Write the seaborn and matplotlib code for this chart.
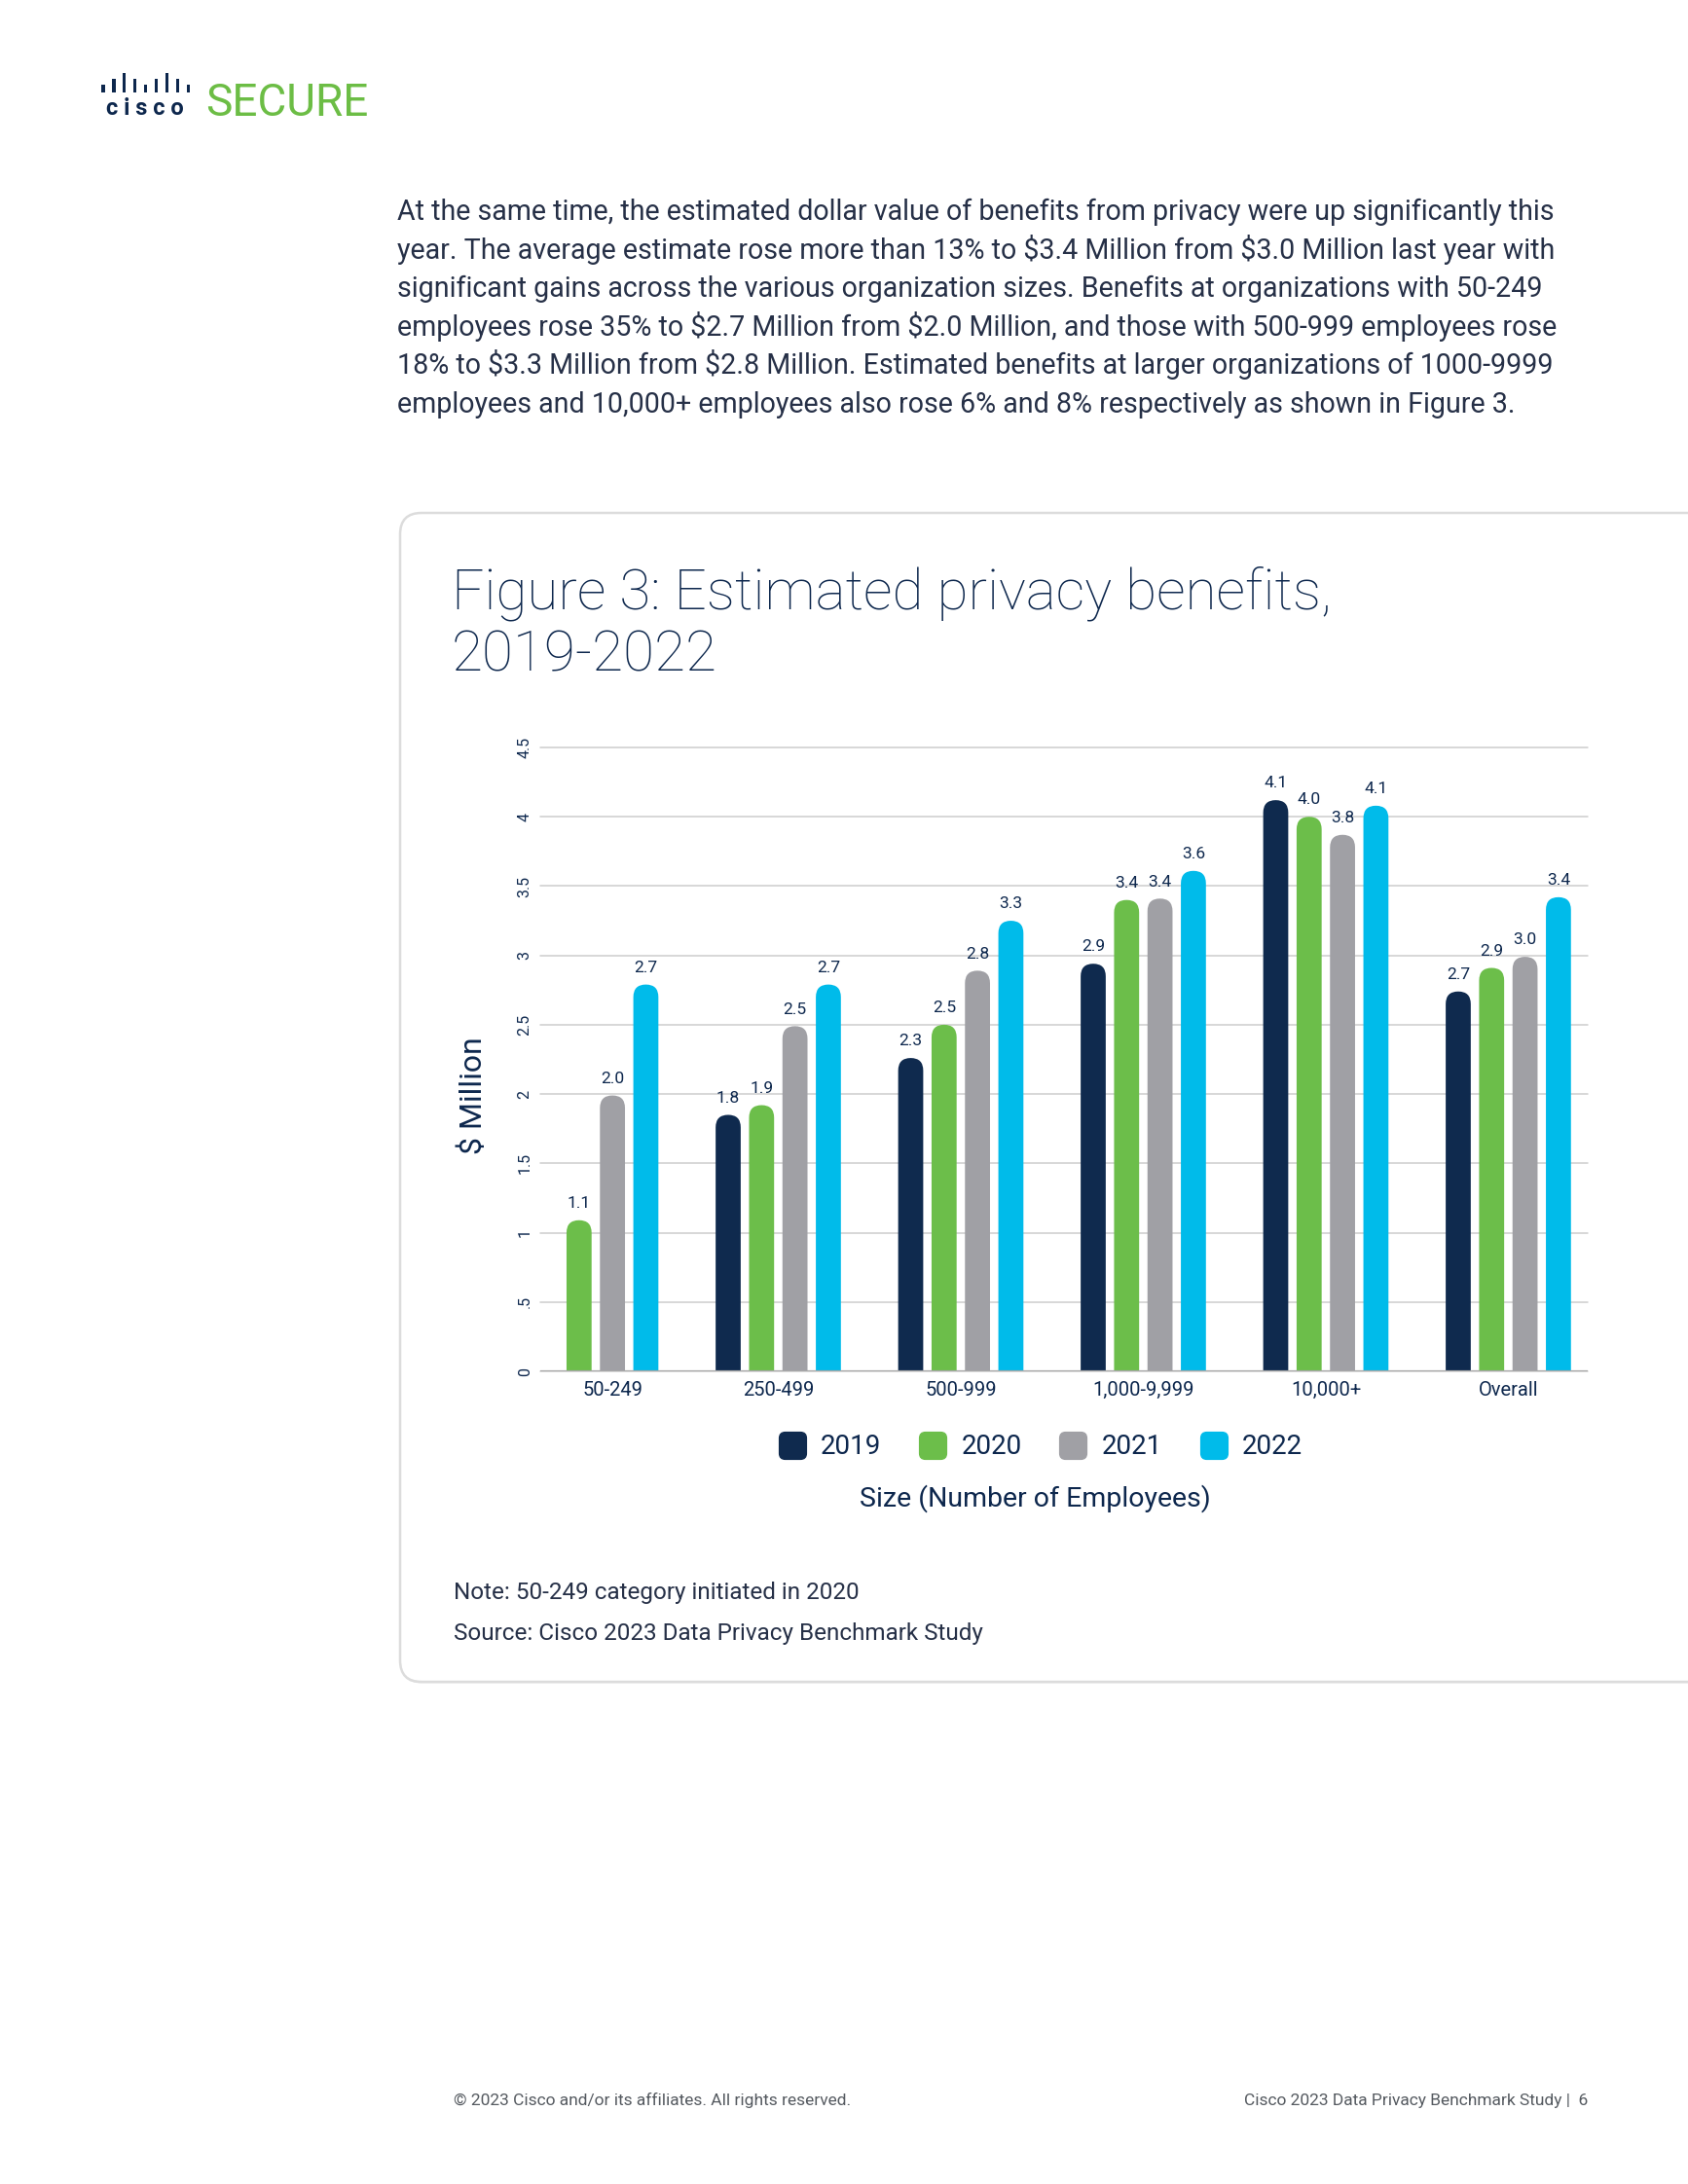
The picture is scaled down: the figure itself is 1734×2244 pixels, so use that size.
import numpy as np
import pandas as pd
import matplotlib
matplotlib.use("Agg")
import matplotlib.pyplot as plt
import seaborn as sns
from matplotlib.patches import FancyBboxPatch, BoxStyle, Rectangle
from matplotlib.lines import Line2D

# ---------------- data ----------------
categories = ["50-249", "250-499", "500-999", "1,000-9,999", "10,000+", "Overall"]
years = ["2019", "2020", "2021", "2022"]
v2019 = [np.nan, 1.85, 2.26, 2.94, 4.12, 2.74]
v2020 = [1.09, 1.92, 2.50, 3.40, 4.00, 2.91]
v2021 = [1.99, 2.49, 2.89, 3.41, 3.87, 2.99]
v2022 = [2.79, 2.79, 3.25, 3.61, 4.08, 3.42]
l2019 = ["", "1.8", "2.3", "2.9", "4.1", "2.7"]
l2020 = ["1.1", "1.9", "2.5", "3.4", "4.0", "2.9"]
l2021 = ["2.0", "2.5", "2.8", "3.4", "3.8", "3.0"]
l2022 = ["2.7", "2.7", "3.3", "3.6", "4.1", "3.4"]
yticks = [0, 0.5, 1, 1.5, 2, 2.5, 3, 3.5, 4, 4.5]
ytick_labels = ["0", ".5", "1", "1.5", "2", "2.5", "3", "3.5", "4", "4.5"]
colors = ["#0f2a4e", "#6cbe4a", "#a0a0a5", "#00bbea"]

body_lines = [
    "At the same time, the estimated dollar value of benefits from privacy were up significantly this",
    "year. The average estimate rose more than 13% to \\$3.4 Million from \\$3.0 Million last year with",
    "significant gains across the various organization sizes. Benefits at organizations with 50-249",
    "employees rose 35% to \\$2.7 Million from \\$2.0 Million, and those with 500-999 employees rose",
    "18% to \\$3.3 Million from \\$2.8 Million. Estimated benefits at larger organizations of 1000-9999",
    "employees and 10,000+ employees also rose 6% and 8% respectively as shown in Figure 3.",
]

NAVY = "#0d274d"
TEXT = "#263047"

sns.set_style("white")
plt.rcParams["font.family"] = ["Roboto", "DejaVu Sans"]

FW, FH = 1734, 2244
fig = plt.figure(figsize=(FW / 100, FH / 100), dpi=100)
fig.patch.set_facecolor("white")


def fx(px):
    return px / FW


def fy(py):
    return 1 - py / FH


# ---------------- card ----------------
shadow = FancyBboxPatch((4.11, 5.145), 14.5, 17.17 - 5.145,
                        boxstyle="round,pad=0,rounding_size=0.22",
                        transform=fig.dpi_scale_trans, fc="#e6e6e6", ec="none", zorder=-3)
fig.add_artist(shadow)
card = FancyBboxPatch((4.11, 5.16), 14.5, 17.17 - 5.16,
                      boxstyle="round,pad=0,rounding_size=0.22",
                      transform=fig.dpi_scale_trans, fc="white", ec="#dcdcdc", lw=1.8, zorder=-2)
fig.add_artist(card)

# ---------------- logo ----------------
bar_h = [8, 14, 20, 14, 8, 14, 20, 14, 8]
for i, hh in enumerate(bar_h):
    cx = 106 + i * 10.9
    fig.add_artist(Rectangle((fx(cx - 1.6), fy(95)), fx(3.2), hh / FH,
                             transform=fig.transFigure, fc=NAVY, ec="none"))
fig.text(fx(149), fy(112), "c i s c o", fontsize=17, fontweight="bold", color=NAVY,
         ha="center", va="center")
fig.text(fx(211), fy(106), "SECURE", fontsize=33, color="#6cbd45",
         ha="left", va="center")

# ---------------- body text ----------------
for i, line in enumerate(body_lines):
    fig.text(fx(408), fy(226 + i * 39.6), line, fontsize=20.6, color=TEXT,
             ha="left", va="baseline", fontweight="normal")

# ---------------- title ----------------
fig.text(fx(464), fy(625), "Figure 3: Estimated privacy benefits,", fontsize=42,
         color=NAVY, ha="left", va="baseline", fontweight="light")
fig.text(fx(464), fy(689), "2019-2022", fontsize=42,
         color=NAVY, ha="left", va="baseline", fontweight="light")

# ---------------- chart ----------------
ax_l, ax_r, ax_b, ax_t = 555, 1631, 1409, 768
ax = fig.add_axes([fx(ax_l), fy(ax_b), (ax_r - ax_l) / FW, (ax_b - ax_t) / FH])
ax.patch.set_alpha(0)

rows = []
for yr, vals, labs in zip(years, [v2019, v2020, v2021, v2022], [l2019, l2020, l2021, l2022]):
    for c, v, lab in zip(categories, vals, labs):
        if not np.isnan(v):
            rows.append({"size": c, "year": yr, "value": v, "label": lab})
df = pd.DataFrame(rows)

sns.barplot(data=df, x="size", y="value", hue="year", order=categories,
            hue_order=years, palette=colors, saturation=1, width=0.732, gap=0.25,
            errorbar=None, legend=False, ax=ax, zorder=2)

xlim = (-0.304, 5.435)
ax.set_xlim(*xlim)
ax.set_ylim(0, 4.5)

# aspect between data units for rounding the bar tops
ppx = (ax_r - ax_l) / (xlim[1] - xlim[0])
ppy = (ax_b - ax_t) / 4.5
asp = ppx / ppy
labels_by_hue = [l2019, l2020, l2021, l2022]
slot = 0.732 / 4
centers = {i: [] for i in range(len(categories))}
for p in list(ax.patches):
    x, w, h = p.get_x(), p.get_width(), p.get_height()
    if not np.isfinite(h) or h <= 0:
        p.remove()
        continue
    fc = p.get_facecolor()
    p.remove()
    r = w / 2
    ry = r * asp
    fb = FancyBboxPatch((x, -ry), w, h + ry,
                        boxstyle=BoxStyle.Round(pad=0, rounding_size=r),
                        mutation_aspect=asp, fc=fc, ec="none", zorder=2)
    ax.add_patch(fb)
    xc = x + w / 2
    ci = int(round(xc))
    centers[ci].append(xc)
    hi = int(round((xc - ci + 0.732 / 2 - slot / 2) / slot))
    lab = labels_by_hue[hi][ci]
    ax.annotate(lab, (xc, h), xytext=(0, 7), textcoords="offset points",
                ha="center", va="bottom", fontsize=12.5, color=NAVY)

# category labels centred under the bars that exist
ax.set_xticks([np.mean(centers[i]) for i in range(len(categories))])
ax.set_xticklabels(categories)

ax.set_yticks(yticks)
ax.set_yticklabels(ytick_labels, rotation=90, va="center")
ax.yaxis.grid(True, color="#cdcdcd", lw=1.1)
for gl in ax.yaxis.get_gridlines():
    gl.set_clip_on(False)
ax.set_axisbelow(True)
ax.axhline(0, color="#a8a8a8", lw=1.6, zorder=3)
for s in ax.spines.values():
    s.set_visible(False)
ax.tick_params(axis="x", length=0, pad=7, labelsize=14.5, labelcolor=NAVY)
ax.tick_params(axis="y", length=0, pad=6, labelsize=11.5, labelcolor=NAVY)
ax.set_xlabel("")
ax.set_ylabel("")

fig.text(fx(486), fy(1126), "\\$ Million", rotation=90, fontsize=23, color=NAVY,
         ha="center", va="center")
fig.text(fx(1063), fy(1540), "Size (Number of Employees)", fontsize=20.5, color=NAVY,
         ha="center", va="center")

# legend
rpath = BoxStyle.Round(pad=0, rounding_size=0.22)(-0.5, -0.5, 1, 1, 1)
handles = [Line2D([], [], marker=rpath, markersize=20, color=c, linestyle="none")
           for c in colors]
fig.legend(handles, years, loc="center", bbox_to_anchor=(fx(1069), fy(1487)),
           ncol=4, frameon=False, fontsize=20, handlelength=1.0, handletextpad=0.55,
           columnspacing=1.4, labelcolor=NAVY)

# notes
fig.text(fx(466), fy(1637), "Note: 50-249 category initiated in 2020", fontsize=17.5,
         color=TEXT, ha="left", va="center")
fig.text(fx(466), fy(1678), "Source: Cisco 2023 Data Privacy Benchmark Study", fontsize=17.5,
         color=TEXT, ha="left", va="center")

# footer
fig.text(fx(466), fy(2158), "© 2023 Cisco and/or its affiliates. All rights reserved.",
         fontsize=12.5, color="#555a60", ha="left", va="center")
fig.text(fx(1631), fy(2158), "Cisco 2023 Data Privacy Benchmark Study |  6",
         fontsize=12.5, color="#555a60", ha="right", va="center")

fig.savefig("out.png", dpi=100, facecolor="white")
